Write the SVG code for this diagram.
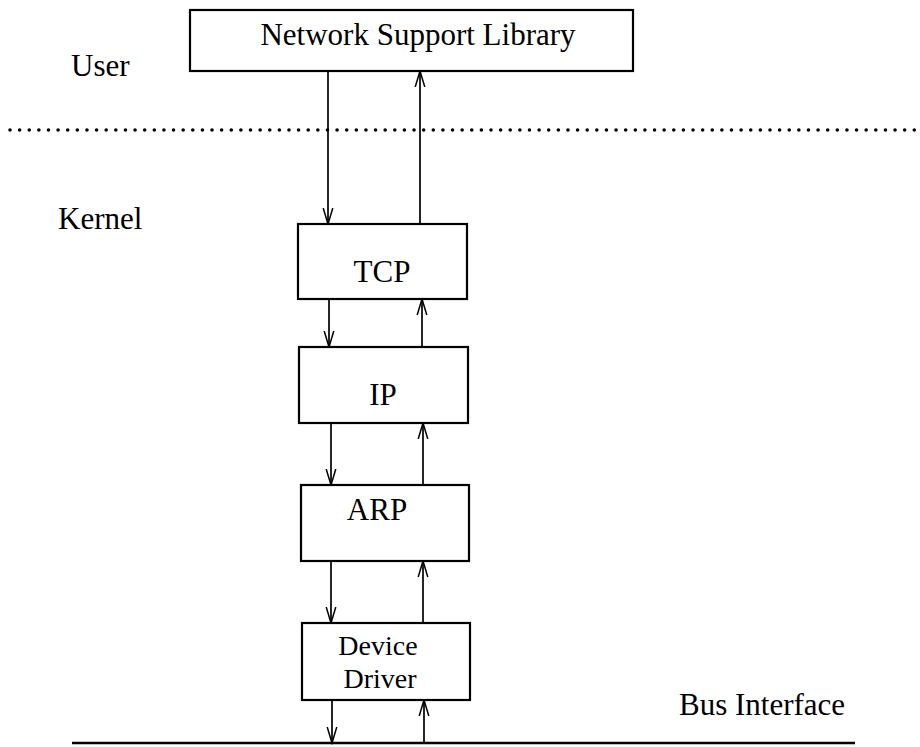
<svg xmlns="http://www.w3.org/2000/svg" width="920" height="747" viewBox="0 0 920 747">
<style>
.box{fill:#fff;stroke:#000;stroke-width:2.2}
.lbl{font-family:"Liberation Serif","Times New Roman",serif;font-size:31px;fill:#000}
.sm{font-size:28px}
.c{text-anchor:middle}
.arr{stroke:#000;stroke-width:1.7;fill:none;marker-end:url(#v)}
</style>
<defs>
<marker id="v" markerUnits="userSpaceOnUse" markerWidth="18" markerHeight="12" refX="16" refY="6" orient="auto">
<polyline points="0,1.2 16,6 0,10.8" fill="none" stroke="#000" stroke-width="1.5"/>
</marker>
</defs>
<rect width="920" height="747" fill="#fff"/>
<line x1="10" y1="130" x2="920" y2="130" stroke="#000" stroke-width="3.6" stroke-linecap="round" stroke-dasharray="0 9.62"/>
<line x1="72" y1="743" x2="855" y2="743" stroke="#000" stroke-width="2.6"/>
<text class="lbl" x="71" y="76">User</text>
<text class="lbl" x="58" y="229">Kernel</text>
<text class="lbl" x="679" y="715">Bus Interface</text>
<g id="connectors">
<line class="arr" x1="328" y1="71" x2="328" y2="224"/>
<line class="arr" x1="420" y1="224" x2="420" y2="71"/>
<line class="arr" x1="329" y1="299" x2="329" y2="347"/>
<line class="arr" x1="422" y1="347" x2="422" y2="299"/>
<line class="arr" x1="331" y1="423" x2="331" y2="485"/>
<line class="arr" x1="423" y1="485" x2="423" y2="423"/>
<line class="arr" x1="331" y1="561" x2="331" y2="623"/>
<line class="arr" x1="423" y1="623" x2="423" y2="561"/>
<line class="arr" x1="332" y1="700" x2="332" y2="743"/>
<line class="arr" x1="424" y1="743" x2="424" y2="700"/>
</g>
<g id="nsl">
<rect class="box" x="190" y="10" width="443" height="61"/>
<text class="lbl c" x="418" y="45">Network Support Library</text>
</g>
<g id="tcp">
<rect class="box" x="298" y="224" width="169" height="75"/>
<text class="lbl c" x="382" y="282">TCP</text>
</g>
<g id="ip">
<rect class="box" x="299" y="347" width="169" height="76"/>
<text class="lbl c" x="383" y="405">IP</text>
</g>
<g id="arp">
<rect class="box" x="301" y="485" width="168" height="76"/>
<text class="lbl c" x="377" y="520">ARP</text>
</g>
<g id="dd">
<rect class="box" x="302" y="623" width="168" height="77"/>
<text class="lbl sm c" x="378" y="655">Device</text>
<text class="lbl sm c" x="380" y="688">Driver</text>
</g>
</svg>
